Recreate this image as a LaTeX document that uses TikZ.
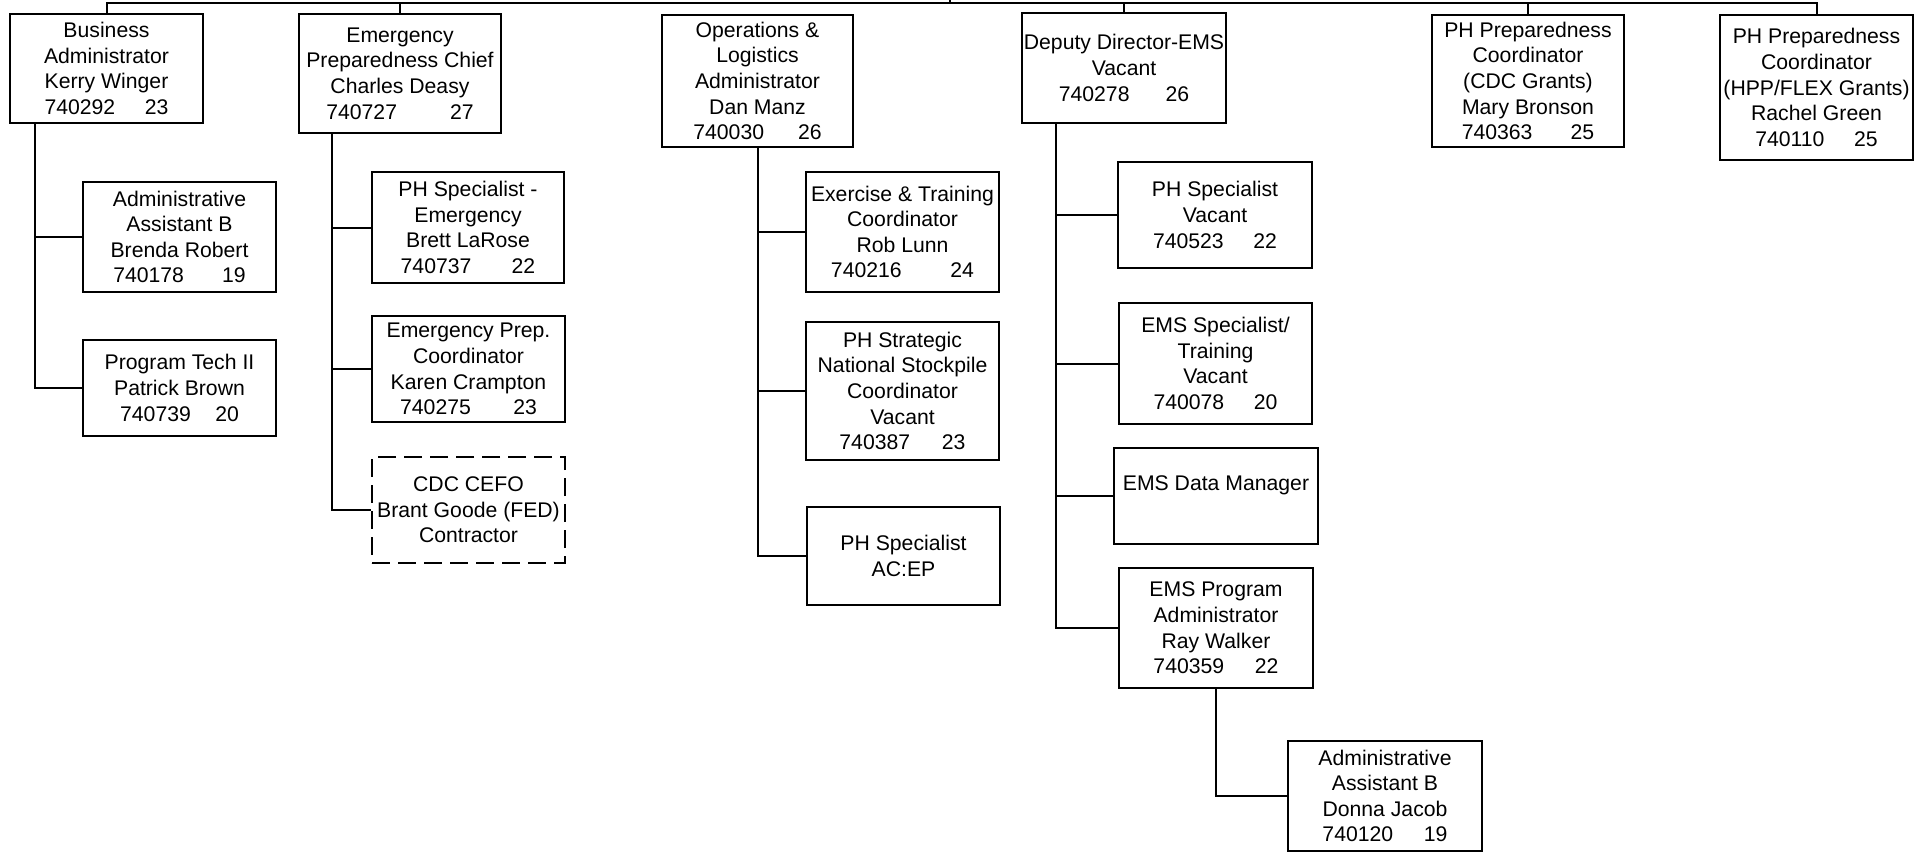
\documentclass[tikz,border=0pt]{standalone}
\usepackage{fontspec}
\setmainfont{Liberation Sans}

\begin{document}
\begin{tikzpicture}[x=0.5pt, y=-0.5pt,
    post/.style={draw, line width=1pt, rectangle, align=center, inner sep=0pt,
      minimum width=96.5pt, font=\fontsize{10.6}{12.8}\selectfont},
    contract/.style={post, dash pattern=on 9pt off 4pt},
    link/.style={line width=1pt}]
  \useasboundingbox (0,0) rectangle (1917,859);

  % top row
  \node[post, minimum height=54.5pt] (ba) at (106.5,68.5) {Business\\Administrator\\Kerry Winger\\740292\hspace{1.4em}23};
  \node[post, minimum width=101pt, minimum height=59.5pt] (epc) at (400,73.5) {Emergency\\Preparedness Chief\\Charles Deasy\\740727\hspace{2.5em}27};
  \node[post, minimum width=95.5pt, minimum height=66pt] (ops) at (757.5,81) {Operations \&\\Logistics\\Administrator\\Dan Manz\\740030\hspace{1.6em}26};
  \node[post, minimum width=102pt, minimum height=55pt] (dep) at (1124,68) {Deputy Director-EMS\\Vacant\\740278\hspace{1.7em}26};
  \node[post, minimum width=96pt, minimum height=66pt] (cdc) at (1528,81) {PH Preparedness\\Coordinator\\(CDC Grants)\\Mary Bronson\\740363\hspace{1.8em}25};
  \node[post, minimum height=72.5pt] (hpp) at (1816.5,87.5) {PH Preparedness\\Coordinator\\(HPP/FLEX Grants)\\Rachel Green\\740110\hspace{1.4em}25};

  % under business administrator
  \node[post, minimum height=55pt] (aab) at (179.5,237) {Administrative\\Assistant B\\Brenda Robert\\740178\hspace{1.8em}19};
  \node[post, minimum height=48pt] (pt2) at (179.5,388) {Program Tech II\\Patrick Brown\\740739\hspace{1.15em}20};

  % under emergency preparedness chief
  \node[post, minimum width=96pt, minimum height=55.5pt] (phse) at (468,227.5) {PH Specialist -\\Emergency\\Brett LaRose\\740737\hspace{1.9em}22};
  \node[post, minimum height=53pt] (epcoord) at (468.5,369) {Emergency Prep.\\Coordinator\\Karen Crampton\\740275\hspace{2em}23};
  \node[contract, minimum height=53pt] (cefo) at (468.5,510) {CDC CEFO\\Brant Goode (FED)\\Contractor};

  % under operations
  \node[post, minimum height=60pt] (extrain) at (902.5,232) {Exercise \& Training\\Coordinator\\Rob Lunn\\740216\hspace{2.3em}24};
  \node[post, minimum height=69pt] (sns) at (902.5,391) {PH Strategic\\National Stockpile\\Coordinator\\Vacant\\740387\hspace{1.5em}23};
  \node[post, minimum height=49pt] (acep) at (903.5,556) {PH Specialist\\AC:EP};

  % under deputy director
  \node[post, minimum width=97pt, minimum height=53pt] (phsv) at (1215,215) {PH Specialist\\Vacant\\740523\hspace{1.4em}22};
  \node[post, minimum height=60.5pt] (emst) at (1215.5,363.5) {EMS Specialist/\\Training\\Vacant\\740078\hspace{1.4em}20};
  \node[post, minimum width=102pt, minimum height=48pt] (emsdm) at (1216,496) {EMS Data Manager\\~};
  \node[post, minimum width=97pt, minimum height=60pt] (emspa) at (1216,628) {EMS Program\\Administrator\\Ray Walker\\740359\hspace{1.45em}22};
  \node[post, minimum width=97pt, minimum height=55pt] (aadj) at (1385,796) {Administrative\\Assistant B\\Donna Jacob\\740120\hspace{1.45em}19};

  % connectors
  \coordinate (bus) at (0,3);
  \coordinate (director) at (950,0);
  \draw[link] (ba.north) -- (ba.north |- bus) -| (hpp.north);
  \draw[link] (director) -- (director |- bus);
  \foreach \n in {epc,dep,cdc}
    \draw[link] (\n.north) -- (\n.north |- bus);

  \coordinate (baTrunk) at (35,123);
  \coordinate (epcTrunk) at (332,133);
  \coordinate (opsTrunk) at (758,147);
  \coordinate (depTrunk) at (1056,123);
  \foreach \n in {aab,pt2}
    \draw[link] (baTrunk) |- (\n.west);
  \foreach \n in {phse,epcoord,cefo}
    \draw[link] (epcTrunk) |- (\n.west);
  \foreach \n in {extrain,sns,acep}
    \draw[link] (opsTrunk) |- (\n.west);
  \foreach \n in {phsv,emst,emsdm,emspa}
    \draw[link] (depTrunk) |- (\n.west);
  \draw[link] (emspa.south) |- (aadj.west);
\end{tikzpicture}
\end{document}
